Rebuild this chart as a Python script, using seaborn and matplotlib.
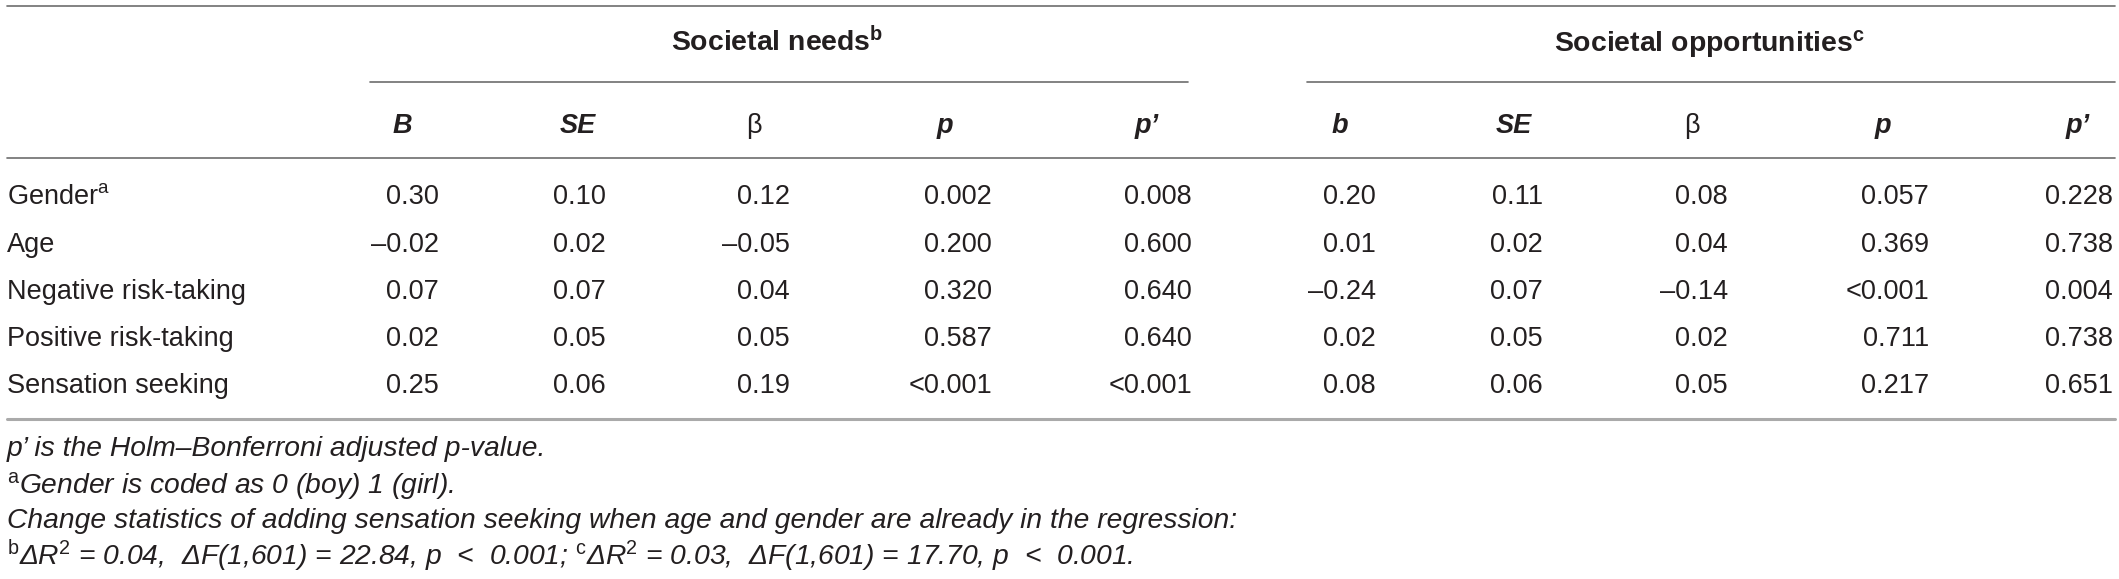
import numpy as np
import pandas as pd
import matplotlib
matplotlib.use('Agg')
import matplotlib.pyplot as plt
import seaborn as sns

# table data
predictors = ['Gender$^{\\mathrm{a}}$', 'Age', 'Negative risk-taking', 'Positive risk-taking', 'Sensation seeking']
needs_B = ['0.30', '\u20130.02', '0.07', '0.02', '0.25']
needs_SE = ['0.10', '0.02', '0.07', '0.05', '0.06']
needs_beta = ['0.12', '\u20130.05', '0.04', '0.05', '0.19']
needs_p = ['0.002', '0.200', '0.320', '0.587', '<0.001']
needs_padj = ['0.008', '0.600', '0.640', '0.640', '<0.001']
opp_b = ['0.20', '0.01', '\u20130.24', '0.02', '0.08']
opp_SE = ['0.11', '0.02', '0.07', '0.05', '0.06']
opp_beta = ['0.08', '0.04', '\u20130.14', '0.02', '0.05']
opp_p = ['0.057', '0.369', '<0.001', '0.711', '0.217']
opp_padj = ['0.228', '0.738', '0.004', '0.738', '0.651']

col_headers = ['B', 'SE', '\u03b2', 'p', 'p\u2019', 'b', 'SE', '\u03b2', 'p', 'p\u2019']
group_headers = ['Societal needs$^{\\mathbf{b}}$', 'Societal opportunities$^{\\mathbf{c}}$']
footnotes = [
    'p\u2019 is the Holm\u2013Bonferroni adjusted p-value.',
    '$^{\\mathrm{a}}$Gender is coded as 0 (boy) 1 (girl).',
    'Change statistics of adding sensation seeking when age and gender are already in the regression:',
    '$^{\\mathrm{b}}$\u0394R$^{\\mathrm{2}}$ = 0.04,  \u0394F(1,601) = 22.84, p  <  0.001; '
    '$^{\\mathrm{c}}$\u0394R$^{\\mathrm{2}}$ = 0.03,  \u0394F(1,601) = 17.70, p  <  0.001.',
]

df = pd.DataFrame({'needs_B': needs_B, 'needs_SE': needs_SE, 'needs_beta': needs_beta,
                   'needs_p': needs_p, 'needs_padj': needs_padj,
                   'opp_b': opp_b, 'opp_SE': opp_SE, 'opp_beta': opp_beta,
                   'opp_p': opp_p, 'opp_padj': opp_padj}, index=predictors)

sns.set_theme(style='white')
plt.rcParams['font.family'] = ['Liberation Sans', 'DejaVu Sans']
plt.rcParams['mathtext.fontset'] = 'custom'
plt.rcParams['mathtext.rm'] = 'Liberation Sans'
plt.rcParams['mathtext.it'] = 'Liberation Sans:italic'
plt.rcParams['mathtext.bf'] = 'Liberation Sans:bold'

W, H = 2119, 579
fig = plt.figure(figsize=(W / 100, H / 100), dpi=100)
ax = fig.add_axes([0, 0, 1, 1])
ax.set_xlim(0, W)
ax.set_ylim(H, 0)
ax.axis('off')

txt = '#231f20'
fs = 19.5
fs_note = 20.3
fs_head = 20.4

# layout (pixels)
val_right = [439, 606, 790, 992, 1192, 1376, 1543, 1728, 1929, 2113]
head_center = [402, 578, 754, 945, 1147, 1340, 1514, 1692, 1883, 2078]
row_base = [204, 251.5, 299, 346, 393]

# rules
ax.plot([7, 2115], [5.5, 5.5], color='#6d6d6d', lw=1.2)
ax.plot([370, 1188], [82, 82], color='#6d6d6d', lw=1.2)
ax.plot([1307, 2115], [82, 82], color='#6d6d6d', lw=1.2)
ax.plot([7, 2115], [158, 158], color='#6d6d6d', lw=1.2)
ax.plot([7, 2115], [419, 419], color='#aaaaaa', lw=2.2)

# group headers
for x, g in zip([777, 1709], group_headers):
    ax.text(x, 51, g, ha='center', va='baseline', fontsize=fs_head, fontweight='bold', color=txt)

# column headers
for x, h in zip(head_center, col_headers):
    if h == '\u03b2':
        ax.text(x, 133, h, ha='center', va='baseline', fontsize=fs, color=txt)
    else:
        ax.text(x, 133, h, ha='center', va='baseline', fontsize=fs,
                fontweight='bold', style='italic', color=txt)

# body
for i, name in enumerate(df.index):
    ax.text(7, row_base[i], name, ha='left', va='baseline', fontsize=fs, color=txt)
    for j, col in enumerate(df.columns):
        ax.text(val_right[j], row_base[i], df.iloc[i, j], ha='right', va='baseline',
                fontsize=fs, color=txt)

# footnotes
for y, f in zip([456, 493, 528, 565], footnotes):
    ax.text(7, y, f, ha='left', va='baseline', fontsize=fs_note, style='italic', color=txt)

fig.savefig('out.png', dpi=100)
